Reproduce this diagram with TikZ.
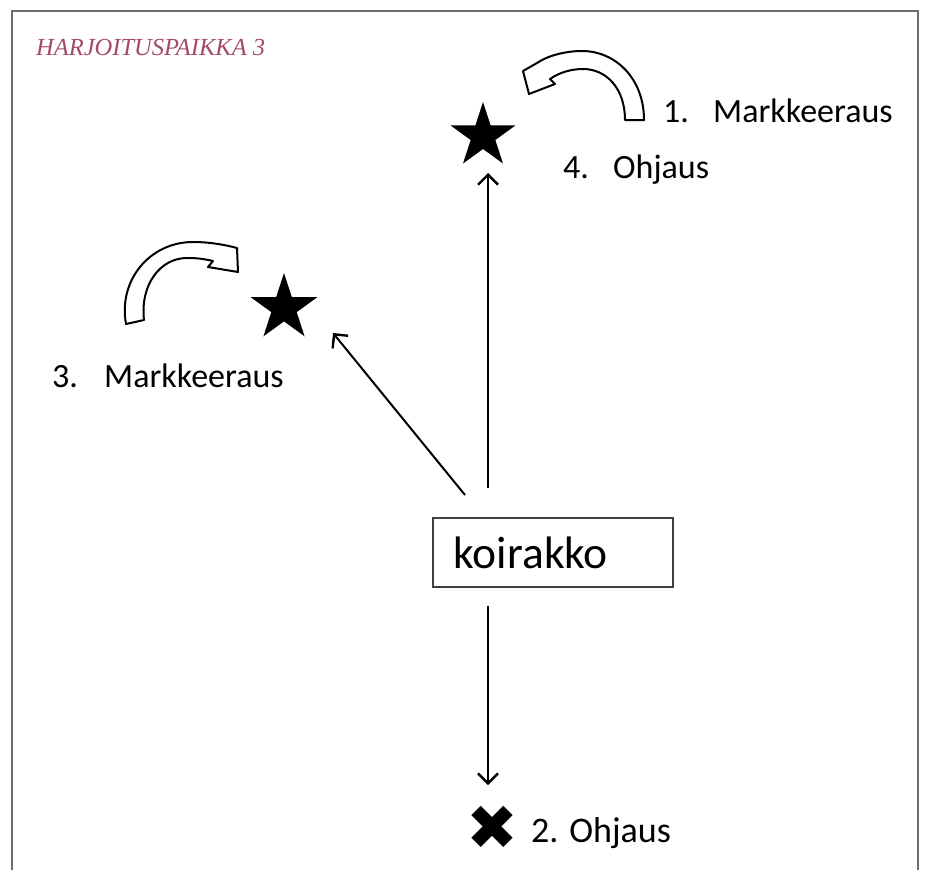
\documentclass[tikz,border=0pt]{standalone}
\usepackage{fontspec}
\setmainfont{Carlito}
\newfontfamily\titlefont{Liberation Serif}
\newfontfamily\symfont{DejaVu Sans}
\usetikzlibrary{arrows.meta,shapes.geometric}
\definecolor{titlecol}{RGB}{163,73,110}
\definecolor{framecol}{RGB}{110,110,110}
\begin{document}
\begin{tikzpicture}[x=1pt,y=-1pt,
  lbl/.style={anchor=base west, inner sep=0pt, font=\fontsize{34}{40}\selectfont, text=black},
  arr/.style={line width=2pt, -{Straight Barb[length=10pt,width=20pt,line width=2.4pt]}},
  starnode/.style={star, star points=5, star point ratio=2.618, minimum size=68pt, fill=black, inner sep=0pt},
  blockarrow/.style={draw=black, fill=white, line width=2pt, line join=round},
]
\useasboundingbox (0,0) rectangle (925,870);
\draw[framecol, line width=2pt] (12,870) -- (12,11) -- (918,11) -- (918,870);
\node[anchor=base west, inner sep=0pt, text=titlecol, font=\titlefont\itshape\fontsize{24.5}{29}\selectfont] (title) at (36,55) {HARJOITUSPAIKKA 3};

% stars
\node[starnode] (topstar) at (483,136) {};
\node[starnode, minimum size=70pt] (leftstar) at (284,308) {};

% box
\node[draw=black!75, line width=1.5pt, anchor=west, inner xsep=21pt, inner ysep=0pt,
      text width=198pt, align=left, minimum height=69pt,
      font=\fontsize{45.5}{52}\selectfont] (box) at (432,552.5) {koirakko};

% cross
\node[inner sep=0pt, font=\symfont\fontsize{62}{62}\selectfont] (cross) at (492,828) {✖};

% arrow end points
\coordinate (upS) at (488,488);
\coordinate (upE) at (488,173);
\coordinate (diagS) at (465,495);
\coordinate (diagE) at (333,333);
\coordinate (downS) at (488,606);
\coordinate (downE) at (488,785);
\draw[arr] (upS) -- (upE);
\draw[arr] (diagS) -- (diagE);
\draw[arr] (downS) -- (downE);

% curved block arrows
\draw[blockarrow] (644,120) .. controls (644,78) and (615,51) .. (582,51)
  .. controls (565,51) and (547,56) .. (537,63) -- (523,71) -- (529,94) -- (555,84) -- (550,79)
  .. controls (560,72) and (572,69) .. (583,69)
  .. controls (606,69) and (625,88) .. (625,120) -- cycle;
\draw[blockarrow] (126,324) .. controls (118,280) and (150,242) .. (193,242)
  .. controls (210,242) and (226,245) .. (237,248) -- (238,272) -- (208,267) -- (213,261)
  .. controls (200,258) and (193,258) .. (187,258)
  .. controls (160,258) and (140,285) .. (144,320) -- cycle;

% labels
\node[lbl] (l1) at (663,122) {\makebox[50pt][l]{1.}Markkeeraus};
\node[lbl] (l4) at (563,178) {\makebox[50pt][l]{4.}Ohjaus};
\node[lbl] (l3) at (52,387) {\makebox[52pt][l]{3.}Markkeeraus};
\node[lbl, font=\fontsize{36}{42}\selectfont] (l2) at (531,842) {2. Ohjaus};
\end{tikzpicture}
\end{document}
